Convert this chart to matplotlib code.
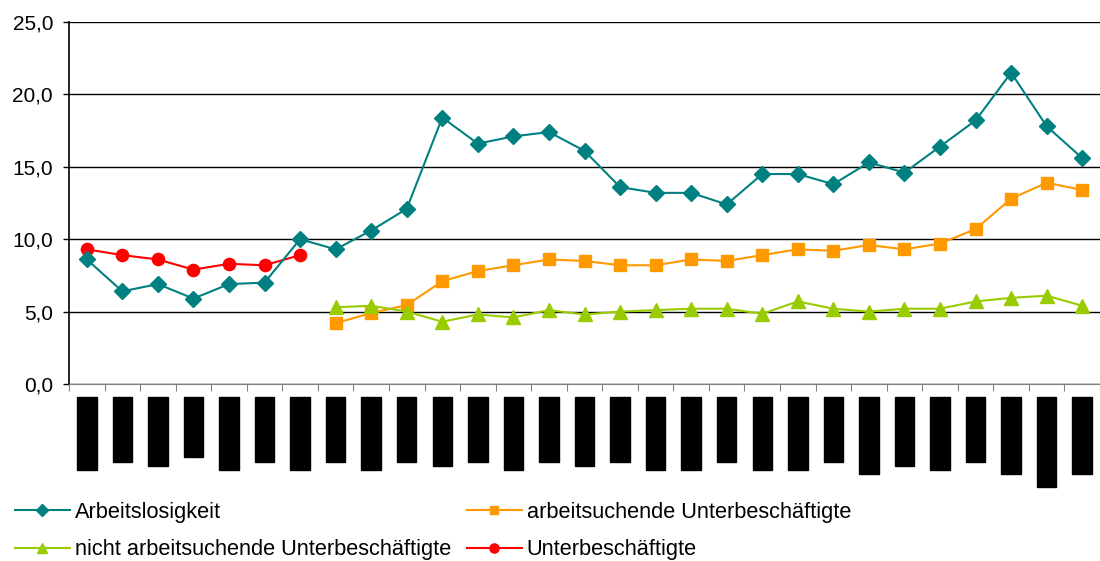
import numpy as np
import matplotlib
matplotlib.use("Agg")
import matplotlib.pyplot as plt
from matplotlib.ticker import FuncFormatter

plt.rcParams['font.family'] = ['Liberation Sans', 'DejaVu Sans']

# category labels (rendered as black blocks in the reference)
categories = ["1991/92/1", "1991/9/2", "19/91/9/2", "1991/92", "1991/92/1", "1991/9/2",
              "1991/92/1", "1991/9/2", "1991/92/1", "1991/9/2", "1991/921", "1991/9/2",
              "1991/92/1", "1991/9/2", "1991/921", "1991/9/2", "1991/92/1", "1991/92/1",
              "1991/9/2", "1991/92/1", "1991/92/1", "1991/9/2", "1991/1992", "1991/921",
              "1991/92/1", "1991/9/2", "1991/1992", "1991/1992/1", "1991/1992"]

arbeitslosigkeit = [8.6, 6.4, 6.9, 5.9, 6.9, 7.0, 10.0, 9.3, 10.6, 12.1, 18.4,
                    16.6, 17.1, 17.4, 16.1, 13.6, 13.2, 13.2, 12.4, 14.5, 14.5,
                    13.8, 15.3, 14.6, 16.4, 18.2, 21.5, 17.8, 15.6]
unterbeschaeftigte = [9.3, 8.9, 8.6, 7.9, 8.3, 8.2, 8.9]
arbeitsuchende = [4.2, 4.9, 5.45, 7.1, 7.8, 8.2, 8.6, 8.5, 8.2, 8.2, 8.6, 8.5,
                  8.9, 9.3, 9.2, 9.6, 9.3, 9.7, 10.7, 12.8, 13.9, 13.4]
nicht_arbeitsuchende = [5.3, 5.4, 5.0, 4.3, 4.8, 4.6, 5.1, 4.8, 5.0, 5.1, 5.2,
                        5.2, 4.85, 5.7, 5.2, 5.0, 5.2, 5.2, 5.7, 5.95, 6.1, 5.4]

n = len(categories)
x = np.arange(n)
x_red = x[:len(unterbeschaeftigte)]
x_late = x[n - len(arbeitsuchende):]

fig = plt.figure(figsize=(11, 5.61), dpi=100)
ax = fig.add_axes([69 / 1100, 1 - 384 / 561, 1 - 69 / 1100, (384 - 22) / 561])

teal, orange, green, red = '#008080', '#FF9900', '#99CC00', '#FF0000'

h1, = ax.plot(x, arbeitslosigkeit, color=teal, lw=1.5, marker='D', ms=8,
              label='Arbeitslosigkeit', clip_on=False, zorder=4)
h2, = ax.plot(x_late, arbeitsuchende, color=orange, lw=1.5, marker='s', ms=8.5,
              label='arbeitsuchende Unterbeschäftigte', zorder=3)
h3, = ax.plot(x_late, nicht_arbeitsuchende, color=green, lw=1.5, marker='^', ms=9.5,
              label='nicht arbeitsuchende Unterbeschäftigte', zorder=3)
h4, = ax.plot(x_red, unterbeschaeftigte, color=red, lw=1.5, marker='o', ms=8.8,
              label='Unterbeschäftigte', zorder=3)

ax.set_xlim(-0.5, n - 0.5)
ax.set_ylim(0, 25)
ax.set_yticks(np.arange(0, 26, 5))
ax.yaxis.set_major_formatter(FuncFormatter(lambda v, p: f'{v:.1f}'.replace('.', ',')))
ax.grid(axis='y', color='black', lw=1)
ax.set_axisbelow(True)
for s in ['top', 'right']:
    ax.spines[s].set_visible(False)
ax.spines['left'].set_linewidth(1.2)
ax.spines['bottom'].set_color('#808080')
ax.tick_params(axis='y', labelsize=15, length=4.5, width=1, pad=7)

# boundaries as major ticks, labels on minor ticks
ax.set_xticks(np.arange(-0.5, n, 1))
ax.set_xticklabels([])
ax.tick_params(axis='x', which='major', length=5, color='#808080')
ax.set_xticks(x, minor=True)
ax.set_xticklabels(categories, minor=True, rotation=90, fontsize=11, color='black')
ax.tick_params(axis='x', which='minor', length=0, pad=11)
for lbl in ax.get_xticklabels(minor=True):
    lbl.set_bbox(dict(facecolor='black', edgecolor='black', pad=2))

fig.legend(handles=[h1, h3, h2, h4], ncol=2, loc='center left',
           bbox_to_anchor=(15 / 1100, 1 - 531 / 561), frameon=False, fontsize=15.7,
           handlelength=2.5, handletextpad=0.23, columnspacing=0.75,
           labelspacing=0.75, borderpad=0, borderaxespad=0, markerscale=0.75)

fig.savefig('out.png', dpi=100)
